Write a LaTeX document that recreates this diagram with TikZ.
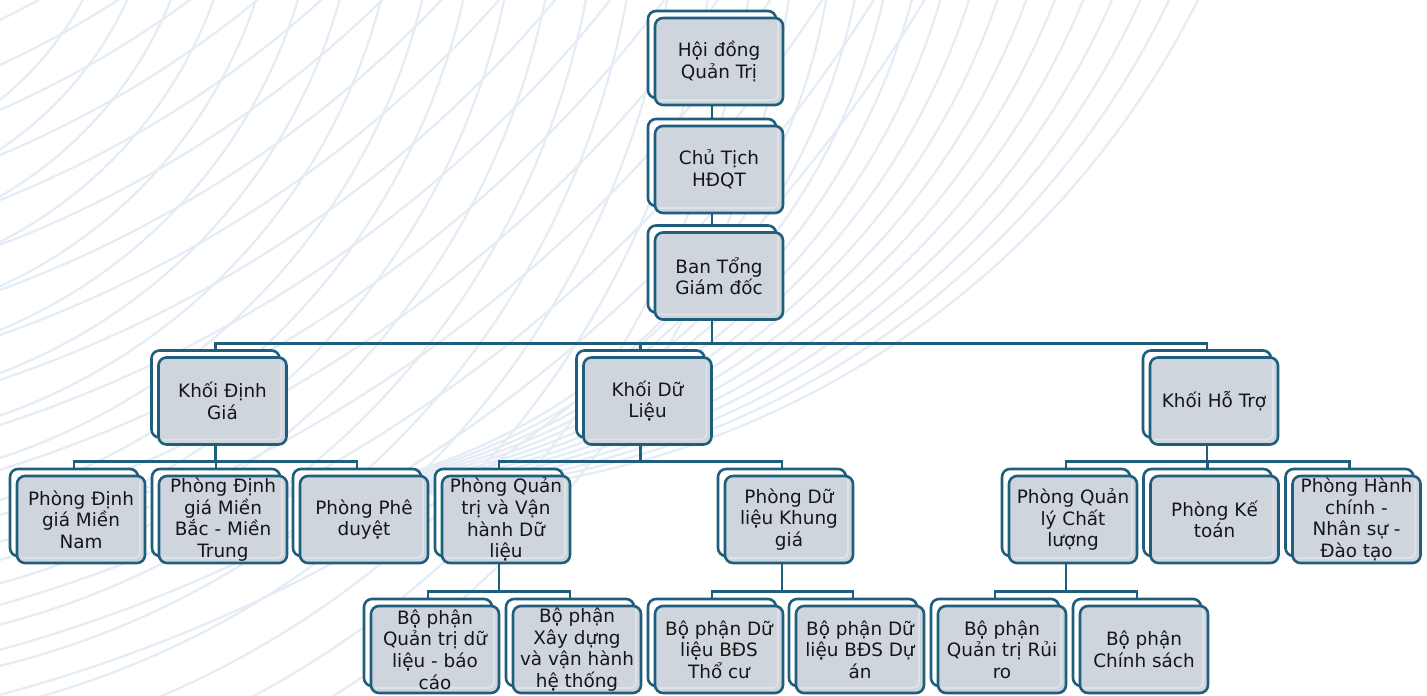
\documentclass[tikz,border=0pt]{standalone}
\usepackage{fontspec}
\setmainfont{DejaVu Sans}
\usetikzlibrary{shadows}
\definecolor{deep}{RGB}{31,94,124}
\definecolor{panel}{RGB}{207,213,221}
\definecolor{gleam}{RGB}{222,227,234}
\definecolor{ink}{RGB}{22,22,22}
\definecolor{swirl}{RGB}{228,236,245}
\pgfdeclarelayer{swirls}
\pgfdeclarelayer{links}
\pgfsetlayers{swirls,links,main}

\begin{document}
\begin{tikzpicture}[x=0.5pt, y=-0.5pt,
    unit/.style={draw=deep, line width=1.3pt, fill=panel, rounded corners=4pt,
        minimum width=64pt, minimum height=43.5pt, inner xsep=2pt, inner ysep=0pt,
        align=center, text=ink, font=\fontsize{9.2}{10.8}\selectfont,
        copy shadow={shadow xshift=-3.5pt, shadow yshift=3.5pt, fill=white, draw=deep, line width=1.3pt},
        path picture={\draw[gleam, line width=0.9pt, rounded corners=3pt]
            ([shift={(-2.5pt,-2pt)}]path picture bounding box.north east)
            -- ([shift={(-2.5pt,2.5pt)}]path picture bounding box.south east)
            -- ([shift={(2pt,2.5pt)}]path picture bounding box.south west);}},
    link/.style={draw=deep, line width=1.3pt},
    swirlline/.style={draw=swirl, line width=1.1pt}]
    \useasboundingbox (0,0) rectangle (1427,695);

    % 1. Nền: các đường cong mờ
    \begin{pgfonlayer}{swirls}
    \fill[white] (0,0) rectangle (1427,695);
    \begin{scope}[x=50pt, y=-50pt]
        \clip (0,0) rectangle (14.27,6.95);
        \foreach \k in {0,...,13} {
            \pgfmathsetmacro{\cx}{2.36+0.125*\k}
            \pgfmathsetmacro{\cy}{-1-0.23*\k}
            \pgfmathsetmacro{\rr}{veclen(8.26+0.286*\k-\cx,\cy)}
            \draw[swirlline] (\cx,\cy) ++(0:\rr) arc[start angle=0, end angle=100, radius=\rr];
        }
        \foreach \j in {0,...,15} {
            \pgfmathsetmacro{\rr}{veclen(4,8.2+0.45*\j)}
            \draw[swirlline] (-4,-8) ++(0:\rr) arc[start angle=0, end angle=95, radius=\rr];
        }
        \foreach \m in {0,...,17} {
            \pgfmathsetmacro{\rr}{3.2+0.4*\m}
            \draw[swirlline] (-2,-1.5) ++(0:\rr) arc[start angle=0, end angle=95, radius=\rr];
        }
    \end{scope}
    \end{pgfonlayer}

    % 2. Các cấp lãnh đạo
    \node[unit] (hdqt) at (719,61.5) {Hội đồng\\Quản Trị};
    \node[unit] (ct) at (719,169.5) {Chủ Tịch\\HĐQT};
    \node[unit] (btgd) at (719,276) {Ban Tổng\\Giám đốc};

    % 3. Các khối
    \node[unit] (kdg) at (222.5,401) {Khối Định\\Giá};
    \node[unit] (kdl) at (647.5,401) {Khối Dữ\\Liệu};
    \node[unit] (kht) at (1214,401) {Khối Hỗ Trợ};

    % 4. Các phòng
    \node[unit] (pmn) at (81,519.5) {Phòng Định\\giá Miền\\Nam};
    \node[unit] (pmb) at (223,519.5) {Phòng Định\\giá Miền\\Bắc - Miền\\Trung};
    \node[unit] (ppd) at (364,519.5) {Phòng Phê\\duyệt};
    \node[unit] (pqt) at (506,519.5) {Phòng Quản\\trị và Vận\\hành Dữ\\liệu};
    \node[unit] (pkg) at (789,519.5) {Phòng Dữ\\liệu Khung\\giá};
    \node[unit] (pql) at (1073,519.5) {Phòng Quản\\lý Chất\\lượng};
    \node[unit] (pkt) at (1214.5,519.5) {Phòng Kế\\toán};
    \node[unit] (phc) at (1356.5,519.5) {Phòng Hành\\chính -\\Nhân sự -\\Đào tạo};

    % 5. Các bộ phận
    \node[unit] (bqt) at (435,649.5) {Bộ phận\\Quản trị dữ\\liệu - báo\\cáo};
    \node[unit] (bxd) at (577,649.5) {Bộ phận\\Xây dựng\\và vận hành\\hệ thống};
    \node[unit] (btc) at (719,649.5) {Bộ phận Dữ\\liệu BĐS\\Thổ cư};
    \node[unit] (bda) at (860,649.5) {Bộ phận Dữ\\liệu BĐS Dự\\án};
    \node[unit] (brr) at (1002,649.5) {Bộ phận\\Quản trị Rủi\\ro};
    \node[unit] (bcs) at (1144,649.5) {Bộ phận\\Chính sách};

    % 6. Đường nối
    \begin{pgfonlayer}{links}
    \foreach \p/\c in {hdqt/ct, ct/btgd, btgd/kdg, btgd/kdl, btgd/kht,
            kdg/pmn, kdg/pmb, kdg/ppd, kdl/pqt, kdl/pkg, kht/pql, kht/pkt, kht/phc,
            pqt/bqt, pqt/bxd, pkg/btc, pkg/bda, pql/brr, pql/bcs}
        \draw[link] ([xshift=-3.5pt]\p.south) |- ([xshift=-3.5pt,yshift=6.5pt]\c.north) -- ([xshift=-3.5pt]\c.north);
    \end{pgfonlayer}
\end{tikzpicture}
\end{document}
